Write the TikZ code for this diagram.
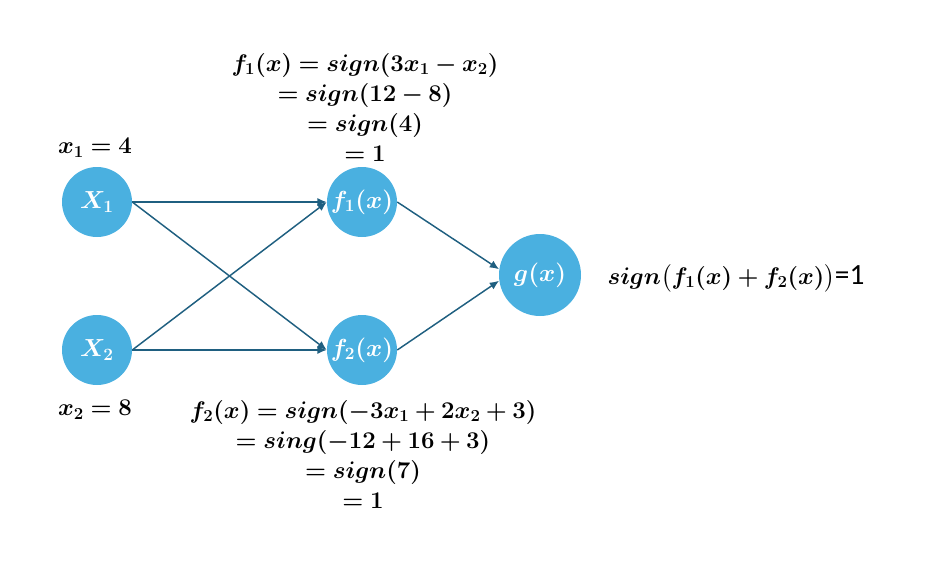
\RequirePackage{fix-cm}
\documentclass[tikz,border=0pt]{standalone}
\usepackage{amsmath}
\usepackage{bm}
\usepackage{fontspec}
\usetikzlibrary{arrows.meta}
\newfontfamily\calibri{Carlito}
\definecolor{nodeblue}{HTML}{4AB0E0}
\definecolor{edgeblue}{HTML}{1F5F80}

\begin{document}
\begin{tikzpicture}[x=0.75pt,y=-0.75pt,>={Latex[length=7pt,width=6pt]},
    neuron/.style={circle,fill=nodeblue,text=white,minimum size=52.5pt,inner sep=0pt,font=\fontsize{18.5}{20}\selectfont},
    edge/.style={draw=edgeblue,line width=1.1pt,->},
    calc/.style={align=center,font=\fontsize{18}{22.5}\selectfont}]
\useasboundingbox (0,0) rectangle (932,575);

\node[neuron] (x1) at (97,202) {$\bm{X_1}$};
\node[neuron] (x2) at (97,350) {$\bm{X_2}$};
\node[neuron] (f1) at (362,202) {$\bm{f_1(x)}$};
\node[neuron] (f2) at (362,350) {$\bm{f_2(x)}$};
\node[neuron,minimum size=61.5pt] (g) at (540,275) {$\bm{g(x)}$};

\draw[edge] (x1.east) -- (f1.west);
\draw[edge] (x1.east) -- (f2.west);
\draw[edge] (x2.east) -- (f1.west);
\draw[edge] (x2.east) -- (f2.west);
\draw[edge] (f1.east) -- (g.172);
\draw[edge] (f2.east) -- (g.188);

\node[calc] (in1) at (95,148) {$\bm{x_1=4}$};
\node[calc] (in2) at (95,410) {$\bm{x_2=8}$};
\node[calc] (eq1) at (365,107) {$\bm{f_1(x)=sign(3x_1-x_2)}$\\ $\bm{=sign(12-8)}$\\ $\bm{=sign(4)}$\\ $\bm{=1}$};
\node[calc] (eq2) at (363,454) {$\bm{f_2(x)=sign(-3x_1+2x_2+3)}$\\ $\bm{=sing(-12+16+3)}$\\ $\bm{=sign(7)}$\\ $\bm{=1}$};
\node[calc] (out) at (736,278) {$\bm{sign\bigl(f_1(x)+f_2(x)\bigr)}${\calibri\fontsize{22}{24}\selectfont=1}};

\end{tikzpicture}
\end{document}
